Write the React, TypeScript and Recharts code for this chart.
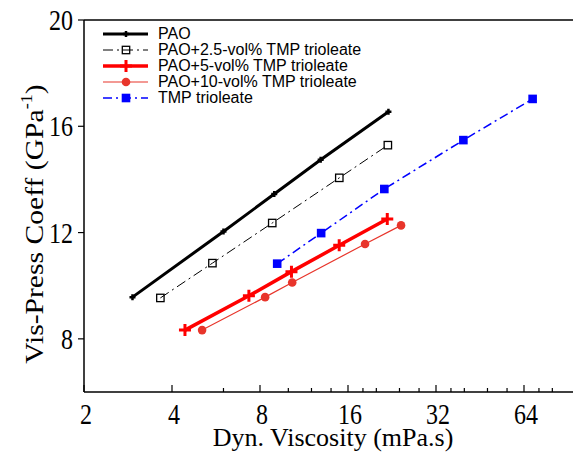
import React from "react";
import { LineChart, Line, XAxis, YAxis, ReferenceLine, Legend, Label } from "recharts";

// viscosity (mPa.s) and viscosity-pressure coefficient (GPa^-1) per fluid
const paoVisc = [2.93, 6.0, 8.95, 12.9, 22.0];
const paoCoeff = [9.57, 12.04, 13.45, 14.74, 16.55];
const pao25Visc = [3.65, 5.5, 8.81, 14.94, 21.9];
const pao25Coeff = [9.54, 10.85, 12.36, 14.06, 15.29];
const pao5Visc = [4.43, 7.33, 10.25, 14.93, 21.8];
const pao5Coeff = [8.33, 9.62, 10.53, 11.52, 12.51];
const pao10Visc = [5.07, 8.33, 10.31, 18.3, 24.3];
const pao10Coeff = [8.33, 9.57, 10.12, 11.57, 12.27];
const tmpVisc = [9.16, 12.95, 21.3, 39.7, 68.5];
const tmpCoeff = [10.83, 11.98, 13.64, 15.48, 17.03];

const seriesNames = [
  "PAO",
  "PAO+2.5-vol% TMP trioleate",
  "PAO+5-vol% TMP trioleate",
  "PAO+10-vol% TMP trioleate",
  "TMP trioleate",
];

const majorTicks = [2, 4, 8, 16, 32, 64];
const xTicks = [2, 4, 6, 8, 10, 12, 14, 16, 18, 20, 24, 28, 32, 36, 40, 48, 56, 64, 72, 80, 96, 112];
const yTicks = [8, 12, 16, 20];

const toPoints = (xs: number[], ys: number[]) => xs.map((x, i) => ({ x, y: ys[i] }));

const RED = "#ff0000";
const RED2 = "#e8352b";
const BLUE = "#0000ff";
const serif = "'Liberation Serif', 'Times New Roman', serif";

const plus = (cx: number, cy: number, s: number) =>
  `M${cx - s},${cy}H${cx + s}M${cx},${cy - s}V${cy + s}`;

const Marker = ({ kind, cx, cy }: { kind: number; cx: number; cy: number }) => {
  if (kind === 0) return <path d={plus(cx, cy, 3)} stroke="#000" strokeWidth={2.5} fill="none" />;
  if (kind === 1)
    return <rect x={cx - 3.7} y={cy - 3.7} width={7.4} height={7.4} stroke="#000" strokeWidth={1.3} fill="none" />;
  if (kind === 2) return <path d={plus(cx, cy, 6)} stroke={RED} strokeWidth={3} fill="none" />;
  if (kind === 3) return <circle cx={cx} cy={cy} r={4.3} fill={RED2} />;
  return <rect x={cx - 4.3} y={cy - 4.3} width={8.6} height={8.6} fill={BLUE} />;
};

const dotFor = (kind: number) => (p: any) =>
  <Marker key={`${kind}-${p.index}`} kind={kind} cx={p.cx} cy={p.cy} />;

const lineStyles = [
  { color: "#000", width: 3, dash: undefined },
  { color: "#000", width: 1, dash: "10 4 2 4" },
  { color: RED, width: 3.5, dash: undefined },
  { color: RED2, width: 1.2, dash: undefined },
  { color: BLUE, width: 1.5, dash: "9 4 2 4" },
];

const XTick = (props: any) => {
  const { x, y, payload } = props;
  const major = majorTicks.includes(payload.value);
  return (
    <g>
      <line x1={x} x2={x} y1={y} y2={y - (major ? 7 : 4)} stroke="#000" strokeWidth={1.2} />
      {major && (
        <g transform={`translate(${x + 2},${y + 32}) scale(1,1.2)`}>
          <text x={0} y={0} textAnchor="middle" fontFamily={serif} fontSize={24} fill="#000">
            {payload.value}
          </text>
        </g>
      )}
    </g>
  );
};

const YTick = (props: any) => {
  const { x, y, payload } = props;
  return (
    <g transform={`translate(${x},${y}) scale(1,1.2)`}>
      <text x={0} y={0} dy="0.35em" textAnchor="end" fontFamily={serif} fontSize={24} fill="#000">
        {payload.value}
      </text>
    </g>
  );
};

const renderLegend = () => (
  <div style={{ fontFamily: "'Liberation Sans', Arial, sans-serif", fontSize: 16, color: "#000" }}>
    {seriesNames.map((name, i) => {
      const st = lineStyles[i];
      return (
        <div key={name} style={{ display: "flex", alignItems: "center", height: 16 }}>
          <svg width={45} height={16} style={{ overflow: "visible" }}>
            <line x1={0} x2={45} y1={8} y2={8} stroke={st.color} strokeWidth={st.width} strokeDasharray={st.dash} />
            <Marker kind={i} cx={23} cy={8} />
          </svg>
          <span style={{ marginLeft: 10, whiteSpace: "nowrap", lineHeight: "16px" }}>{name}</span>
        </div>
      );
    })}
  </div>
);

const allSeries = [
  toPoints(paoVisc, paoCoeff),
  toPoints(pao25Visc, pao25Coeff),
  toPoints(pao5Visc, pao5Coeff),
  toPoints(pao10Visc, pao10Coeff),
  toPoints(tmpVisc, tmpCoeff),
];

export default function App() {
  return (
    <div style={{ position: "absolute", left: 0, top: 0, width: 573, height: 453, overflow: "hidden", background: "#fff" }}>
      <LineChart width={612} height={453} margin={{ top: 20, right: 0, bottom: 0, left: 0 }}>
        <XAxis
          type="number"
          dataKey="x"
          scale="log"
          domain={[2, 128]}
          ticks={xTicks}
          interval={0}
          allowDataOverflow
          height={61}
          tickSize={0}
          tickMargin={0}
          tickLine={false}
          tick={<XTick />}
          axisLine={{ stroke: "#000", strokeWidth: 1.5 }}
        >
          <Label
            content={() => (
              <text x={333} y={446} textAnchor="middle" fontFamily={serif} fontSize={26} fill="#000">
                Dyn. Viscosity (mPa.s)
              </text>
            )}
          />
        </XAxis>
        <YAxis
          type="number"
          dataKey="y"
          domain={[6, 20]}
          ticks={yTicks}
          interval={0}
          width={84}
          tickSize={6}
          tickMargin={5}
          tick={<YTick />}
          tickLine={{ stroke: "#000", strokeWidth: 1.2 }}
          axisLine={{ stroke: "#000", strokeWidth: 1.5 }}
        >
          <Label
            content={() => (
              <g transform="translate(43,224) rotate(-90) scale(1.14,1)">
                <text x={0} y={0} textAnchor="middle" fontFamily={serif} fontSize={26} fill="#000">
                  Vis-Press Coeff (GPa
                  <tspan fontSize={16} dy={-11}>-1</tspan>
                  <tspan dy={11}>)</tspan>
                </text>
              </g>
            )}
          />
        </YAxis>
        <ReferenceLine y={20} stroke="#000" strokeWidth={1.5} />
        <ReferenceLine x={128} stroke="#000" strokeWidth={1.5} />
        {allSeries.map((pts, i) => (
          <Line
            key={seriesNames[i]}
            data={pts}
            dataKey="y"
            name={seriesNames[i]}
            type="linear"
            stroke={lineStyles[i].color}
            strokeWidth={lineStyles[i].width}
            strokeDasharray={lineStyles[i].dash}
            dot={dotFor(i)}
            activeDot={false}
            isAnimationActive={false}
          />
        ))}
        <Legend
          layout="vertical"
          align="center"
          verticalAlign="middle"
          content={renderLegend}
          wrapperStyle={{ top: 26, left: 103, width: "auto" }}
        />
      </LineChart>
    </div>
  );
}
